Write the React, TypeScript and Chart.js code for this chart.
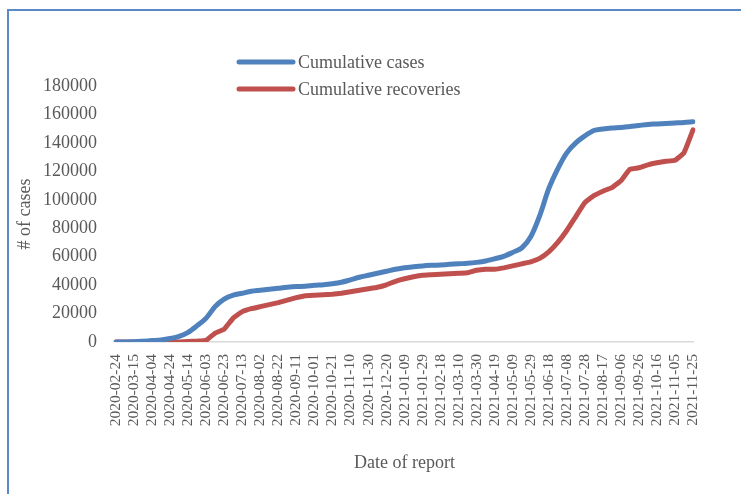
import React, { useEffect, useRef } from "react";
import { Chart, registerables } from "chart.js";

Chart.register(...registerables);

// Report dates, every 10 days (tick labels shown every 20 days)
const reportDates: string[] = [
  "2020-02-24", "2020-03-05", "2020-03-15", "2020-03-25", "2020-04-04", "2020-04-14",
  "2020-04-24", "2020-05-04", "2020-05-14", "2020-05-24", "2020-06-03", "2020-06-13",
  "2020-06-23", "2020-07-03", "2020-07-13", "2020-07-23", "2020-08-02", "2020-08-12",
  "2020-08-22", "2020-09-01", "2020-09-11", "2020-09-21", "2020-10-01", "2020-10-11",
  "2020-10-21", "2020-10-31", "2020-11-10", "2020-11-20", "2020-11-30", "2020-12-10",
  "2020-12-20", "2020-12-30", "2021-01-09", "2021-01-19", "2021-01-29", "2021-02-08",
  "2021-02-18", "2021-02-28", "2021-03-10", "2021-03-20", "2021-03-30", "2021-04-09",
  "2021-04-19", "2021-04-29", "2021-05-09", "2021-05-19", "2021-05-29", "2021-06-08",
  "2021-06-18", "2021-06-28", "2021-07-08", "2021-07-18", "2021-07-28", "2021-08-07",
  "2021-08-17", "2021-08-27", "2021-09-06", "2021-09-16", "2021-09-26", "2021-10-06",
  "2021-10-16", "2021-10-26", "2021-11-05", "2021-11-15", "2021-11-25",
];

const cumulativeCases: number[] = [
  0, 0, 100, 500, 1000, 1500, 2500, 4000, 6800, 11500,
  16800, 25000, 30100, 32900, 34300, 35700, 36400, 37100, 37800, 38500,
  39000, 39200, 39900, 40300, 41000, 42000, 43700, 45500, 46900, 48300,
  49700, 51100, 52200, 52900, 53500, 53900, 54200, 54600, 55000, 55300,
  56000, 57000, 58500, 60200, 63000, 66100, 74000, 88900, 107800, 121800,
  133000, 140000, 144900, 148700, 149800, 150500, 150850, 151550, 152250, 152950,
  153300, 153650, 154000, 154350, 154900,
];

const cumulativeRecoveries: number[] = [
  0, 0, 0, 0, 0, 0, 0, 0, 300, 600,
  1200, 6300, 9100, 16800, 21350, 23450, 24850, 26250, 27650, 29400,
  31150, 32550, 32900, 33250, 33600, 34300, 35350, 36400, 37450, 38500,
  40250, 42700, 44450, 45850, 46900, 47250, 47600, 47950, 48300, 48650,
  50400, 51100, 51100, 52150, 53550, 54950, 56350, 58800, 63350, 70000,
  78400, 88200, 98000, 102900, 106050, 108500, 113400, 121450, 122500, 124600,
  126000, 127050, 127750, 133000, 149100,
];

const seriesNames: string[] = ["Cumulative cases", "Cumulative recoveries"];
const seriesColors: string[] = ["#4f81bd", "#c0504d"];

const yMax = 180000;
const yStep = 20000;

const FONT = "'Liberation Serif', 'Times New Roman', serif";
const TEXT = "#595959";

const legendPlugin = {
  id: "excelLegend",
  afterDraw(chart: any) {
    const { ctx, chartArea } = chart;
    const lx = chartArea.left + 123;
    const ly = chartArea.top - 24;
    ctx.save();
    chart.data.datasets.forEach((ds: any, i: number) => {
      const y = ly + i * 27;
      ctx.beginPath();
      ctx.lineCap = "round";
      ctx.lineWidth = 5;
      ctx.strokeStyle = ds.borderColor;
      ctx.moveTo(lx, y);
      ctx.lineTo(lx + 54, y);
      ctx.stroke();
      ctx.fillStyle = TEXT;
      ctx.font = `18px ${FONT}`;
      ctx.textBaseline = "middle";
      ctx.textAlign = "left";
      ctx.fillText(ds.label, lx + 59, y + 1);
    });
    ctx.restore();
  },
};

export default function App() {
  const canvasRef = useRef<HTMLCanvasElement | null>(null);

  useEffect(() => {
    if (!canvasRef.current) return;
    const chart = new Chart(canvasRef.current, {
      type: "line",
      data: {
        labels: reportDates,
        datasets: [
          {
            label: seriesNames[0],
            data: cumulativeCases,
            borderColor: seriesColors[0],
            backgroundColor: seriesColors[0],
            borderWidth: 5,
            pointRadius: 0,
            tension: 0.3,
            borderCapStyle: "round",
            borderJoinStyle: "round",
          },
          {
            label: seriesNames[1],
            data: cumulativeRecoveries,
            borderColor: seriesColors[1],
            backgroundColor: seriesColors[1],
            borderWidth: 5,
            pointRadius: 0,
            tension: 0.1,
            borderCapStyle: "round",
            borderJoinStyle: "round",
          },
        ],
      },
      options: {
        responsive: false,
        animation: false,
        layout: { padding: { top: 86, right: 48, bottom: 0, left: 0 } },
        plugins: {
          legend: { display: false },
          tooltip: { enabled: false },
        },
        scales: {
          x: {
            type: "category",
            offset: false,
            grid: { display: false, drawTicks: false },
            border: { display: true, color: "#d9d9d9", width: 1.5 },
            ticks: {
              autoSkip: false,
              minRotation: 90,
              maxRotation: 90,
              padding: 12,
              color: TEXT,
              font: { family: FONT, size: 15.5 },
              callback: (_v: any, idx: number) => (idx % 2 === 0 ? reportDates[idx] : null),
            },
            title: {
              display: true,
              text: "Date of report",
              color: TEXT,
              font: { family: FONT, size: 18 },
              padding: { top: 0, bottom: 20 },
            },
            afterFit: (scale: any) => {
              scale.height = 152;
            },
          },
          y: {
            min: 0,
            max: yMax,
            grid: { display: false, drawTicks: false },
            border: { display: false },
            ticks: {
              stepSize: yStep,
              padding: 19,
              color: TEXT,
              font: { family: FONT, size: 18 },
              callback: (v: any) => String(v),
            },
            title: {
              display: true,
              text: "# of cases",
              color: TEXT,
              font: { family: FONT, size: 18 },
              padding: { top: 14, bottom: 0 },
            },
            afterFit: (scale: any) => {
              scale.width = 116;
            },
          },
        },
      },
      plugins: [legendPlugin],
    });
    return () => chart.destroy();
  }, []);

  return (
    <div
      style={{
        position: "fixed",
        left: 0,
        top: 0,
        width: 741,
        height: 494,
        overflow: "hidden",
        background: "#ffffff",
      }}
    >
      <div
        style={{
          position: "absolute",
          left: 7,
          top: 9,
          width: 800,
          height: 600,
          border: "2px solid #5a8ac6",
          boxSizing: "border-box",
        }}
      />
      <canvas
        ref={canvasRef}
        width={741}
        height={494}
        style={{ position: "absolute", left: 0, top: 0, width: 741, height: 494 }}
      />
    </div>
  );
}
